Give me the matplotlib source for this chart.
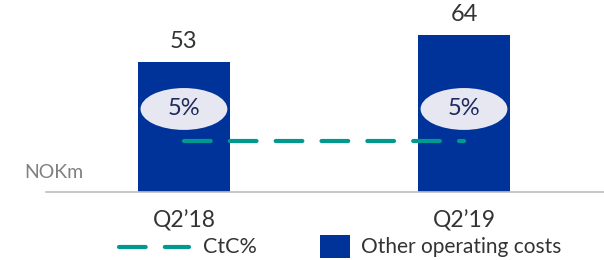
import matplotlib
matplotlib.use("Agg")
import matplotlib.pyplot as plt
from matplotlib.patches import Ellipse, Rectangle
from matplotlib.lines import Line2D

## Data ##
quarters = ["Q2\u201918", "Q2\u201919"]
other_costs = [53, 64]          # NOKm
ctc_pct = [5, 5]                # CtC %
ctc_labels = ["5%", "5%"]

## Styles ##
bar_color = "#003399"
line_color = "#00998F"
ell_color = "#E6E7F0"
txt_color = "#333333"

plt.rcParams['font.family'] = ['Lato', 'DejaVu Sans']

W, H = 604, 260
fig = plt.figure(figsize=(W / 100, H / 100), dpi=100)
# axes: left edge at the grey baseline start, bottom at baseline
ax = fig.add_axes((45.6 / W, 1 - 192 / H, 1 - 45.6 / W, 192 / H))

x = [0, 1]
ax.bar(x, other_costs, width=0.33, color=bar_color, zorder=2)
ax.set_xlim(-0.494, 1.5)
ax.set_ylim(0, 78.4)

for xi, v in zip(x, other_costs):
    ax.text(xi, v + 4.0, str(v), ha='center', va='bottom', fontsize=17, color=txt_color)

# CtC% bubbles
for xi, lab in zip(x, ctc_labels):
    ax.add_patch(Ellipse((xi, 33.9), 0.31, 17.1, facecolor=ell_color, edgecolor='none', zorder=3))
    ax.text(xi, 33.9, lab, ha='center', va='center', fontsize=17, color="#1F2B5E", zorder=4)

# CtC% dashed line on secondary axis
ax2 = ax.twinx()
ax2.set_ylim(0, 5 * 78.4 / 20.8)
ax2.plot(x, ctc_pct, color=line_color, lw=3, linestyle=(0, (6.4, 4.6)),
         dash_capstyle='round', zorder=5)

for a in (ax, ax2):
    for s in a.spines.values():
        s.set_visible(False)
    a.set_yticks([])
ax.spines['bottom'].set_visible(True)
ax.spines['bottom'].set_color("#BFBFBF")
ax.spines['bottom'].set_linewidth(1.2)
ax.set_xticks(x)
ax.set_xticklabels(quarters, fontsize=16.5, color=txt_color)
ax.tick_params(axis='x', length=0, pad=13)

fig.text(24 / W, 1 - 172 / H, "NOKm", ha='left', va='center', fontsize=14, color="#808080")

# legend drawn in figure pixels
px = lambda xx, yy: (xx / W, 1 - yy / H)
ly = 247
fig.add_artist(Line2D([119 / W, 189 / W], [1 - ly / H] * 2, color=line_color, lw=3,
                      linestyle=(0, (6.4, 4.6)), dash_capstyle='round'))
fig.text(*px(203, ly), "CtC%", ha='left', va='center', fontsize=15.5, color=txt_color)
fig.add_artist(Rectangle(px(320, 258), 30 / W, 23 / H, facecolor=bar_color, edgecolor='none'))
fig.text(*px(361, ly), "Other operating costs", ha='left', va='center', fontsize=15, color=txt_color)

fig.savefig("out.png", dpi=100)
